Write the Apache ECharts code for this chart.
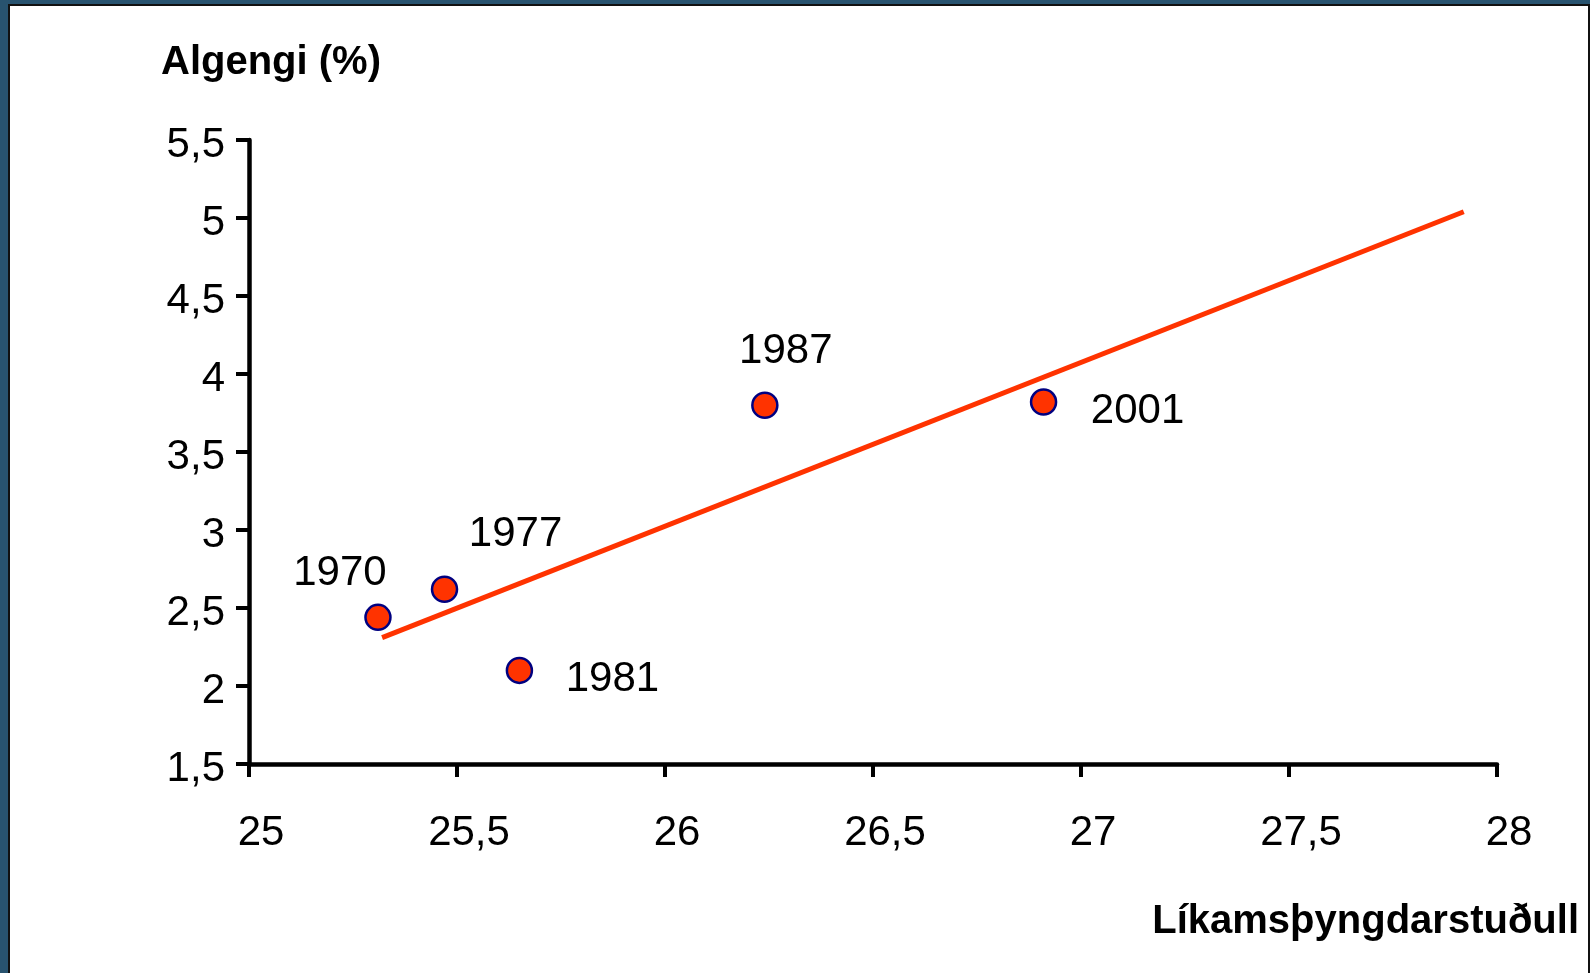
<!DOCTYPE html>
<html>
<head>
<meta charset="utf-8">
<script src="https://cdn.jsdelivr.net/npm/echarts@6/dist/echarts.min.js"></script>
<style>
	html, body { margin: 0; padding: 0; width: 1590px; height: 973px; overflow: hidden; background: #28536f; }
	#panel { position: absolute; left: 8px; top: 4px; width: 1578px; height: 1000px; background: #fff; border: 2px solid #111; }
	#chart-area { position: absolute; left: 0; top: 0; width: 1590px; height: 973px; }
</style>
</head>
<body>
<div id="panel"></div>
<div id="chart-area"></div>
<script>
// survey years and their (BMI, prevalence) points
const years = ['1970', '1977', '1981', '1987', '2001'];
const bmi = [25.31, 25.47, 25.65, 26.24, 26.91];
const prevalence = [2.44, 2.62, 2.10, 3.80, 3.82];

// trend line endpoints
const trendX = [25.32, 27.92];
const trendY = [2.31, 5.04];

const xTicks = { min: 25, max: 28, interval: 0.5 };
const yTicks = { min: 1.5, max: 5.5, interval: 0.5 };

let chartDom = document.getElementById('chart-area');
let myChart = echarts.init(chartDom, null, { renderer: 'canvas' });

const font = 'Liberation Sans, Arial, sans-serif';
const comma = v => String(v).replace('.', ',');

// where each year label sits relative to its dot
const labelOffsets = {
	'1970': [-38, -44],
	'1977': [71, -55],
	'1981': [93, 9],
	'1987': [21, -54],
	'2001': [94, 9]
};

let option = {
	backgroundColor: 'transparent',
	animation: false,
	title: [
		{
			text: 'Algengi (%)',
			left: 156,
			top: 38,
			textStyle: { fontFamily: font, fontSize: 40, fontWeight: 'bold', color: '#000' }
		},
		{
			text: 'Líkamsþyngdarstuðull',
			right: 6,
			top: 897,
			textStyle: { fontFamily: font, fontSize: 40, fontWeight: 'bold', color: '#000' }
		}
	],
	grid: {
		left: 249,
		right: 93,
		top: 140,
		bottom: 209
	},
	xAxis: {
		type: 'value',
		min: xTicks.min,
		max: xTicks.max,
		interval: xTicks.interval,
		splitLine: { show: false },
		axisLine: { show: true, onZero: false, lineStyle: { color: '#000', width: 4.5 } },
		axisTick: { show: true, inside: false, length: 13, lineStyle: { color: '#000', width: 4 } },
		axisLabel: {
			margin: 48,
			fontFamily: font,
			fontSize: 42,
			color: '#000',
			padding: [0, 0, 0, 24],
			formatter: comma
		}
	},
	yAxis: {
		type: 'value',
		min: yTicks.min,
		max: yTicks.max,
		interval: yTicks.interval,
		splitLine: { show: false },
		axisLine: { show: true, onZero: false, lineStyle: { color: '#000', width: 4.5 } },
		axisTick: { show: true, inside: false, length: 13, lineStyle: { color: '#000', width: 4 } },
		axisLabel: {
			margin: 24,
			fontFamily: font,
			fontSize: 42,
			color: '#000',
			verticalAlign: 'top',
			lineHeight: 10,
			formatter: comma
		}
	},
	series: [
		{
			name: 'trend',
			type: 'line',
			data: trendX.map((x, i) => [x, trendY[i]]),
			symbol: 'none',
			lineStyle: { color: '#ff3300', width: 5 },
			z: 2
		},
		{
			name: 'years',
			type: 'scatter',
			symbol: 'circle',
			symbolSize: 25,
			itemStyle: { color: '#ff3300', borderColor: '#000080', borderWidth: 2.5, opacity: 1 },
			data: years.map((y, i) => ({
				value: [bmi[i], prevalence[i]],
				name: y,
				label: { offset: labelOffsets[y] }
			})),
			label: {
				show: true,
				position: 'inside',
				formatter: p => p.name,
				fontFamily: font,
				fontSize: 42,
				color: '#000'
			},
			z: 3
		}
	]
};

option && myChart.setOption(option);
</script>
</body>
</html>
